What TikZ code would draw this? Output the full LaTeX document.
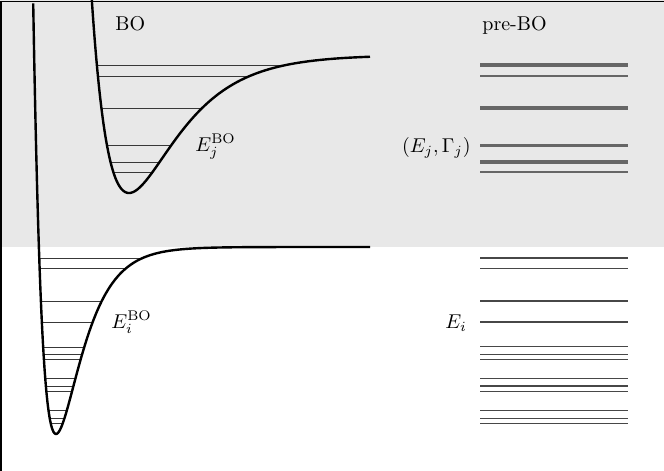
\documentclass[tikz,border=0pt]{standalone}
\definecolor{bg}{RGB}{232,232,232}
\definecolor{lvgray}{RGB}{102,102,102}
\begin{document}
\begin{tikzpicture}[x=0.5pt,y=-0.5pt,
  curve/.style={line width=1.2pt, black},
  vlevel/.style={line width=0.5pt, black!78},
  rlevel/.style={lvgray},
  lowlevel/.style={line width=0.6pt, black!72},
  lab/.style={inner sep=0pt},
  declare function={
    mup(\x)=193-138*(1-exp(-0.021*(\x-129)))*(1-exp(-0.021*(\x-129)));
    mlo(\x)=434-187*(1-exp(-0.0405*(\x-56)))*(1-exp(-0.0405*(\x-56)));
  }]
\useasboundingbox (0,0) rectangle (664,471);
\fill[bg] (0,0) rectangle (664,247);
\draw[line width=0.8pt] (0.8,471) -- (0.8,1.6) -- (664,1.6);

% upper (BO) potential levels
\foreach \yy in {65.3,76.3,108,145.7,162,172.7}{
  \pgfmathsetmacro\uu{sqrt((193-\yy)/138)}
  \pgfmathsetmacro\xl{129-ln(1+\uu)/0.021}
  \pgfmathsetmacro\xr{129-ln(1-\uu)/0.021}
  \draw[vlevel] (\xl,\yy) -- (\xr,\yy);
}
% lower (BO) potential levels
\foreach \yy in {258.3,268.7,301,322,347,354.3,359.5,378.7,386,391.7,410.7,418.3,423.5}{
  \pgfmathsetmacro\uu{sqrt((434-\yy)/187)}
  \pgfmathsetmacro\xl{56-ln(1+\uu)/0.0405}
  \pgfmathsetmacro\xr{56-ln(1-\uu)/0.0405}
  \draw[vlevel] (\xl,\yy) -- (\xr,\yy);
}
\draw[curve] plot[domain=91.8:370, samples=300, smooth] (\x,{mup(\x)});
\draw[curve] plot[domain=33.2:370, samples=300, smooth] (\x,{mlo(\x)});

% pre-BO levels (upper, broadened)
\foreach \yy/\ww in {65/2.2,76.3/1.1,108/1.6,145.7/1.5,161.7/2.0,172.3/1.1}{
  \draw[rlevel, line width=\ww pt] (480,\yy) -- (628,\yy);
}
% pre-BO levels (lower)
\foreach \yy in {258,268.7,301,322,346.7,354.3,359.7,378.7,386,391.7,410.7,418.3,423.5}{
  \draw[lowlevel] (480,\yy) -- (628,\yy);
}

\node[lab, anchor=base west] (bo) at (115,31) {BO};
\node[lab, anchor=base west] (prebo) at (482,30) {pre-BO};
\node[lab, anchor=base west] (ejbo) at (195,151) {$E_j^{\mathrm{BO}}$};
\node[lab, anchor=base west] (eibo) at (111,328) {$E_i^{\mathrm{BO}}$};
\node[lab, anchor=base east] (ejg) at (471,152) {$(E_j,\Gamma_j)$};
\node[lab, anchor=base west] (ei) at (445,328) {$E_i$};
\end{tikzpicture}
\end{document}
